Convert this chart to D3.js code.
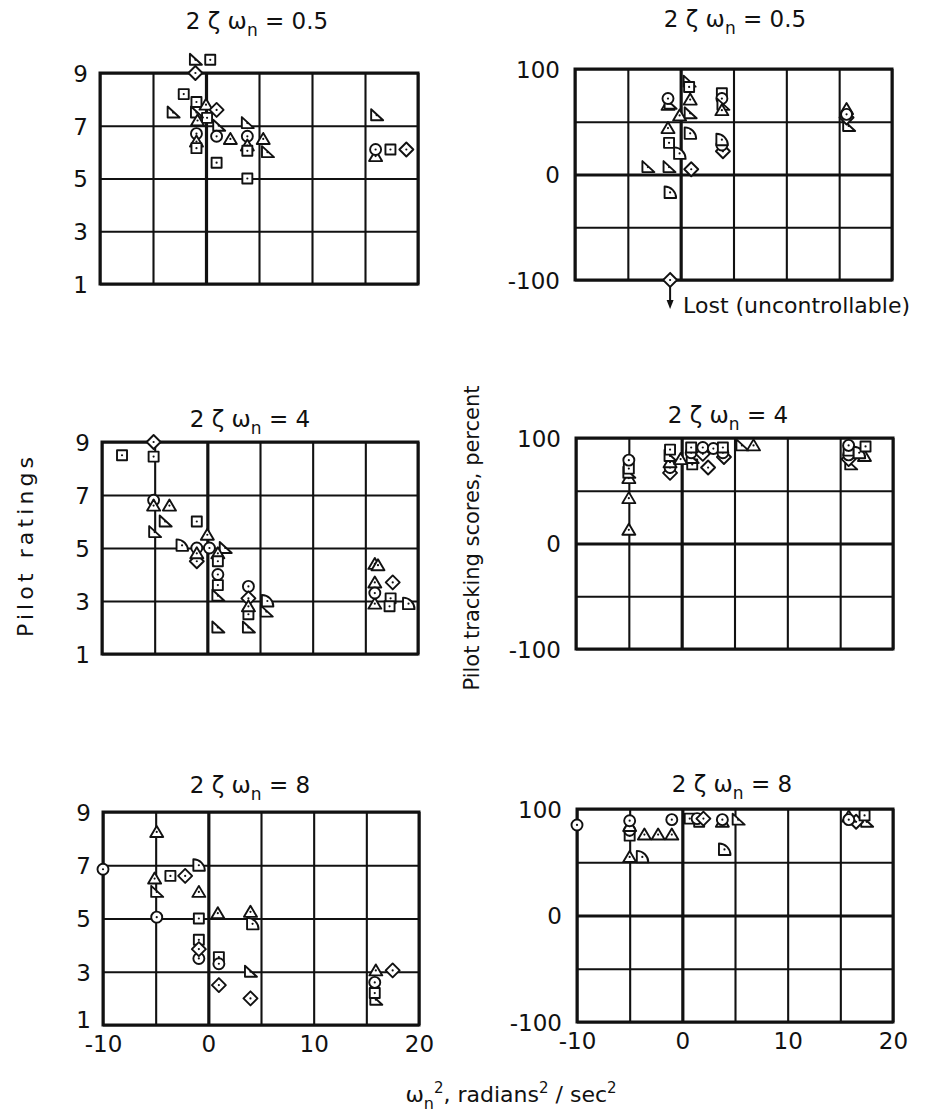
<!DOCTYPE html>
<html>
<head>
<meta charset="utf-8">
<script src="https://cdn.jsdelivr.net/npm/d3@7"></script>
<style>
  body { margin: 0; background: #fff; }
  svg { display: block; font-family: "DejaVu Sans", "Liberation Sans", sans-serif; }
</style>
</head>
<body>
<div id="chart"></div>
<script>
// symbol codes: o circle, s square, d diamond, t triangle, r flagged (right) triangle, q quarter circle
const xGrid = [-10, -5, 0, 5, 10, 15, 20];
const xTickLabels = [-10, 0, 10, 20];
const ratingTicks = [1, 3, 5, 7, 9];
const scoreGrid = [-100, -50, 0, 50, 100];
const scoreTickLabels = [-100, 0, 100];
const titleValues = ["0.5", "4", "8"];

// pilot ratings, 2ζωn = 0.5
const ratings05 = [
  [-1.0, 9.5, "r"], [0.4, 9.5, "s"], [-1.0, 9.0, "d"], [-2.1, 8.2, "s"], [-3.1, 7.5, "r"],
  [-0.9, 7.9, "s"], [0.0, 7.8, "t"], [1.0, 7.6, "d"], [0.1, 7.3, "s"], [-0.9, 7.5, "r"],
  [-0.8, 7.2, "t"], [1.2, 7.0, "r"], [-0.9, 6.7, "o"], [-0.9, 6.4, "t"], [-0.9, 6.15, "s"],
  [1.0, 6.6, "o"], [2.3, 6.5, "t"], [3.9, 7.1, "r"], [3.9, 6.6, "o"], [5.4, 6.5, "t"],
  [3.9, 6.25, "t"], [3.9, 6.05, "s"], [5.8, 6.0, "r"], [1.0, 5.6, "s"], [3.9, 5.0, "s"],
  [16.1, 7.4, "r"], [16.0, 5.85, "t"], [16.0, 6.1, "o"], [17.4, 6.1, "s"], [18.9, 6.1, "d"]
];
// tracking scores, 2ζωn = 0.5
const scores05 = [
  [-1.2, 66, "t"], [-1.0, 67, "r"], [-1.2, 72, "o"], [0.8, 88, "r"], [0.8, 83, "s"],
  [0.9, 71, "t"], [-0.1, 56, "t"], [0.9, 58, "r"], [-1.2, 44, "t"], [0.9, 39, "q"],
  [-1.1, 30, "s"], [-0.1, 20, "q"], [-3.1, 7, "r"], [-1.1, 7, "r"], [1.0, 5, "d"],
  [-1.0, -17, "q"], [3.9, 77, "s"], [3.9, 72, "o"], [4.0, 66, "r"], [3.9, 61, "t"],
  [4.0, 22, "d"], [3.9, 28, "o"], [3.9, 33, "q"], [15.9, 46, "r"], [15.7, 62, "t"],
  [15.7, 54, "d"], [15.7, 57, "o"]
];
const lost05 = [[-1.0, -100, "d"]];
// pilot ratings, 2ζωn = 4
const ratings4 = [
  [-8.1, 8.5, "s"], [-5.1, 9.0, "d"], [-5.1, 8.45, "s"], [-5.1, 6.8, "o"], [-5.1, 6.6, "t"],
  [-3.6, 6.6, "t"], [-4.0, 6.0, "r"], [-5.0, 5.6, "r"], [-1.0, 6.0, "s"], [-2.4, 5.1, "q"],
  [-1.0, 4.5, "d"], [-1.0, 5.0, "o"], [-1.0, 4.8, "t"], [0.0, 5.5, "t"], [0.2, 5.0, "o"],
  [1.7, 5.0, "r"], [1.0, 4.8, "t"], [1.0, 4.5, "s"], [1.0, 4.0, "o"], [1.0, 3.6, "s"],
  [1.0, 3.2, "r"], [1.0, 2.0, "r"], [3.9, 3.55, "o"], [3.9, 3.1, "d"], [3.9, 2.5, "s"],
  [3.9, 2.0, "r"], [3.9, 2.8, "t"], [5.7, 3.0, "q"], [5.6, 2.6, "r"], [15.9, 4.4, "t"],
  [16.2, 4.35, "t"], [17.6, 3.7, "d"], [15.9, 3.7, "t"], [15.9, 2.9, "t"], [17.4, 3.1, "s"],
  [15.9, 3.3, "o"], [17.3, 2.8, "s"], [19.1, 2.9, "q"]
];
// tracking scores, 2ζωn = 4
const scores4 = [
  [-5.0, 13, "t"], [-5.0, 43, "t"], [-5.0, 62, "t"], [-5.0, 67, "r"], [-5.0, 71, "s"],
  [-5.0, 79, "o"], [-1.1, 67, "d"], [-1.1, 72, "o"], [-1.1, 77, "t"], [-1.1, 83, "r"],
  [-1.1, 89, "s"], [-0.1, 80, "t"], [1.0, 75, "s"], [1.0, 81, "r"], [0.9, 86, "o"],
  [0.9, 91, "s"], [2.5, 72, "d"], [2.0, 85, "d"], [2.0, 91, "o"], [3.0, 90, "o"],
  [4.0, 82, "d"], [3.9, 86, "o"], [3.9, 91, "s"], [5.7, 93, "r"], [6.8, 93, "t"],
  [16.0, 75, "r"], [15.8, 80, "d"], [15.8, 84, "o"], [15.8, 88, "s"], [15.8, 93, "o"],
  [17.3, 83, "t"], [16.8, 86, "q"], [17.4, 92, "s"]
];
// pilot ratings, 2ζωn = 8
const ratings8 = [
  [-4.9, 8.25, "t"], [-10.0, 6.85, "o"], [-0.9, 7.0, "q"], [-5.1, 6.5, "t"], [-3.6, 6.6, "s"],
  [-2.2, 6.6, "d"], [-4.9, 6.0, "r"], [-0.9, 6.0, "t"], [-4.9, 5.05, "o"], [-0.9, 5.0, "s"],
  [0.9, 5.2, "t"], [4.0, 5.25, "t"], [4.2, 4.8, "q"], [-0.9, 4.2, "s"], [-0.9, 3.5, "o"],
  [-0.9, 3.85, "d"], [1.0, 3.55, "s"], [1.0, 3.3, "o"], [1.0, 2.5, "d"], [4.0, 3.0, "r"],
  [4.0, 2.0, "d"], [15.9, 3.05, "t"], [17.5, 3.05, "d"], [15.9, 1.95, "r"], [15.8, 2.2, "s"],
  [15.8, 2.6, "o"]
];
// tracking scores, 2ζωn = 8
const scores8 = [
  [-10.0, 85, "o"], [-5.0, 75, "s"], [-5.0, 80, "o"], [-5.0, 84, "t"], [-5.0, 89, "o"],
  [-3.6, 76, "t"], [-2.3, 76, "t"], [-1.0, 76, "t"], [-1.0, 90, "o"], [-5.0, 55, "t"],
  [-3.8, 55, "q"], [0.7, 91, "s"], [1.6, 88, "s"], [1.4, 91, "o"], [2.0, 91, "d"],
  [3.8, 88, "t"], [3.8, 90, "o"], [5.3, 90, "r"], [4.0, 62, "q"], [17.5, 88, "r"],
  [16.5, 88, "d"], [15.8, 93, "t"], [15.8, 90, "o"], [17.3, 94, "s"]
];

// panel layout
const panels = [
  {data: ratings05, score: false, x0: 100, x1: 418, y0: 73,  y1: 284, title: 0, tx: 257, ty: 29,  xLabels: false},
  {data: scores05,  score: true,  x0: 575, x1: 892, y0: 69,  y1: 280, title: 0, tx: 735, ty: 27,  xLabels: false},
  {data: ratings4,  score: false, x0: 102, x1: 418, y0: 442, y1: 654, title: 1, tx: 250, ty: 427, xLabels: false},
  {data: scores4,   score: true,  x0: 576, x1: 893, y0: 438, y1: 649, title: 1, tx: 728, ty: 423, xLabels: false},
  {data: ratings8,  score: false, x0: 103, x1: 419, y0: 812, y1: 1025, title: 2, tx: 250, ty: 793, xLabels: true},
  {data: scores8,   score: true,  x0: 577, x1: 893, y0: 809, y1: 1022, title: 2, tx: 732, ty: 792, xLabels: true}
];

const width = 929, height = 1112;
const svg = d3.select("#chart").append("svg")
  .attr("width", width)
  .attr("height", height);
svg.append("rect").attr("width", width).attr("height", height).attr("fill", "#fff");

// marker outlines, centred on the point
function shapePath(code) {
  switch (code) {
    case "o": return "M5.5,0A5.5,5.5 0 1 1 -5.5,0A5.5,5.5 0 1 1 5.5,0Z";
    case "s": return "M-5,-5H5V5H-5Z";
    case "d": return "M0,-7L7,0L0,7L-7,0Z";
    case "t": return "M0,-6L6.5,5L-6.5,5Z";
    case "r": return "M-5.5,-6L-5.5,5L6.5,5Z";
    case "q": return "M-5.5,5.5L-5.5,-6A11.5,11.5 0 0 1 6,5.5Z";
  }
}

const ink = "#111";

function drawPanel(p) {
  const x = d3.scaleLinear().domain([-10, 20]).range([p.x0, p.x1]);
  const y = d3.scaleLinear().domain(p.score ? [-100, 100] : [1, 9]).range([p.y1, p.y0]);
  const g = svg.append("g");

  // vertical grid + x labels
  const xAxis = g.append("g")
    .attr("transform", `translate(0,${p.y1})`)
    .call(d3.axisBottom(x)
      .tickValues(xGrid)
      .tickSize(-(p.y1 - p.y0))
      .tickPadding(11)
      .tickFormat(d => p.xLabels && xTickLabels.includes(d) ? String(d) : ""));

  // horizontal grid + y labels
  const yAxis = g.append("g")
    .attr("transform", `translate(${p.x0},0)`)
    .call(d3.axisLeft(y)
      .tickValues(p.score ? scoreGrid : ratingTicks)
      .tickSize(-(p.x1 - p.x0))
      .tickPadding(p.score ? 15 : 12)
      .tickFormat(d => p.score ? (scoreTickLabels.includes(d) ? String(d) : "") : String(d)));

  [xAxis, yAxis].forEach(a => {
    a.attr("font-family", null).attr("font-size", null);
    a.select(".domain").remove();
    a.selectAll("line").attr("stroke", ink).attr("stroke-width", d => d === 0 ? 3.2 : 2.1);
    a.selectAll("text").attr("fill", ink).style("font-size", "23px");
  });
  // lowest rating label sits a little higher where the x labels are below it
  yAxis.selectAll("text").attr("dy", d => (p.xLabels && d === 1) ? "0.12em" : "0.36em");

  // frame
  g.append("rect")
    .attr("x", p.x0).attr("y", p.y0)
    .attr("width", p.x1 - p.x0).attr("height", p.y1 - p.y0)
    .attr("fill", "none").attr("stroke", ink).attr("stroke-width", 3);

  // title 2ζωn = value
  const t = g.append("text")
    .attr("x", p.tx).attr("y", p.ty)
    .attr("text-anchor", "middle")
    .style("font-size", "23px").attr("fill", ink);
  t.append("tspan").text("2 ζ ω");
  t.append("tspan").attr("dy", 7).style("font-size", "17px").text("n");
  t.append("tspan").attr("dy", -7).text(" = " + titleValues[p.title]);

  // markers
  const pts = g.append("g").selectAll("g")
    .data(p.data)
    .join("g")
    .attr("transform", d => `translate(${x(d[0])},${y(d[1])})`);
  pts.append("path")
    .attr("d", d => shapePath(d[2]))
    .attr("fill", "#fff").attr("stroke", ink).attr("stroke-width", 1.9)
    .attr("stroke-linejoin", "round");
  pts.append("circle").attr("r", 1.1).attr("fill", ink);

  return {x, y, g};
}

const drawn = panels.map(drawPanel);

// lost point in the top-right panel
const tr = drawn[1];
const lost = tr.g.append("g").selectAll("g").data(lost05).join("g")
  .attr("transform", d => `translate(${tr.x(d[0])},${tr.y(d[1])})`);
lost.append("line").attr("x1", 0).attr("x2", 0).attr("y1", 7).attr("y2", 24)
  .attr("stroke", ink).attr("stroke-width", 2);
lost.append("path").attr("d", "M-3.5,20L3.5,20L0,29Z").attr("fill", ink);
lost.append("path").attr("d", shapePath("d"))
  .attr("fill", "#fff").attr("stroke", ink).attr("stroke-width", 1.9);
lost.append("circle").attr("r", 1.1).attr("fill", ink);
lost.append("text").attr("x", 13).attr("y", 33)
  .style("font-size", "22px").attr("fill", ink)
  .text("Lost (uncontrollable)");

// axis titles
svg.append("text")
  .attr("transform", "translate(33,547) rotate(-90)")
  .attr("text-anchor", "middle")
  .attr("textLength", 180).attr("lengthAdjust", "spacing")
  .style("font-size", "22px").attr("fill", ink)
  .text("Pilot  ratings");

svg.append("text")
  .attr("transform", "translate(479,538) rotate(-90)")
  .attr("text-anchor", "middle")
  .attr("textLength", 305).attr("lengthAdjust", "spacing")
  .style("font-size", "21px").attr("fill", ink)
  .text("Pilot tracking scores, percent");

const xt = svg.append("text")
  .attr("x", 511).attr("y", 1102)
  .attr("text-anchor", "middle")
  .style("font-size", "22px").attr("fill", ink);
xt.append("tspan").text("ω");
xt.append("tspan").attr("dy", 7).style("font-size", "16px").text("n");
xt.append("tspan").attr("dy", -16).style("font-size", "15px").text("2");
xt.append("tspan").attr("dy", 9).text(", radians");
xt.append("tspan").attr("dy", -9).style("font-size", "15px").text("2");
xt.append("tspan").attr("dy", 9).text(" / sec");
xt.append("tspan").attr("dy", -9).style("font-size", "15px").text("2");
</script>
</body>
</html>
